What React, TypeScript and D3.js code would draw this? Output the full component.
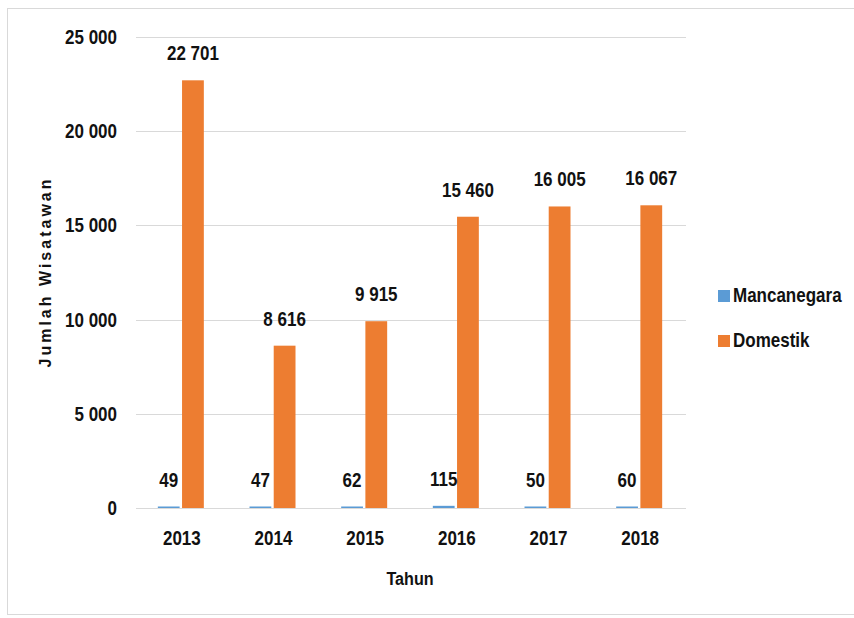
import React, { useEffect, useRef } from 'react';
import * as d3 from 'd3';

const YEARS = ['2013', '2014', '2015', '2016', '2017', '2018'];
const SERIES = ['Mancanegara', 'Domestik'];
const MANCANEGARA = [49, 47, 62, 115, 50, 60];
const DOMESTIK = [22701, 8616, 9915, 15460, 16005, 16067];
const Y_TICKS = [0, 5000, 10000, 15000, 20000, 25000];

const COLORS = ['#5B9BD5', '#ED7D31'];
const FONT = '"Liberation Sans", Arial, sans-serif';
const SQUEEZE = 0.85; // the source font is a condensed one

const fmt = (v: number) => d3.format(',')(v).replace(/,/g, ' ');
const at = (x: number, y: number) => `translate(${x},${y}) scale(${SQUEEZE},1)`;

export default function App() {
  const svgRef = useRef<SVGSVGElement | null>(null);

  useEffect(() => {
    document.body.style.margin = '0';
    const width = 854;
    const height = 618;
    const svg = d3.select(svgRef.current).attr('width', width).attr('height', height);
    svg.selectAll('*').remove();

    svg.append('rect').attr('width', width).attr('height', height).attr('fill', '#fff');
    // chart frame
    svg.append('rect')
      .attr('x', 7.5).attr('y', 8.5)
      .attr('width', 860).attr('height', 606)
      .attr('fill', 'none').attr('stroke', '#d9d9d9');

    const x0 = d3.scaleBand().domain(YEARS).range([136, 686]);
    const bw = x0.bandwidth();
    const x1 = d3.scaleBand().domain(SERIES).range([bw / 2 - 24, bw / 2 + 22]).paddingInner(0.1);
    const y = d3.scaleLinear().domain([0, 25000]).range([508, 37]);

    // gridlines
    svg.append('g')
      .selectAll('line')
      .data(Y_TICKS)
      .join('line')
      .attr('x1', 136).attr('x2', 686)
      .attr('y1', d => Math.round(y(d)) + 0.5).attr('y2', d => Math.round(y(d)) + 0.5)
      .attr('stroke', '#d9d9d9').attr('stroke-width', 1);

    // y tick labels
    svg.append('g')
      .selectAll('text')
      .data(Y_TICKS)
      .join('text')
      .attr('transform', d => at(117, y(d) + 7))
      .attr('text-anchor', 'end')
      .attr('font-family', FONT).attr('font-weight', 'bold').attr('font-size', 20)
      .attr('fill', '#111')
      .text(d => fmt(d));

    const values = [MANCANEGARA, DOMESTIK];
    const rows = YEARS.map((yr, i) => ({ yr, vals: SERIES.map((s, k) => ({ s, k, v: values[k][i] })) }));

    const groups = svg.append('g')
      .selectAll('g')
      .data(rows)
      .join('g')
      .attr('transform', d => `translate(${x0(d.yr)},0)`);

    groups.selectAll('rect')
      .data(d => d.vals)
      .join('rect')
      .attr('x', d => x1(d.s)!)
      .attr('width', x1.bandwidth())
      .attr('y', d => Math.min(y(d.v), 506.5))
      .attr('height', d => Math.max(y(0) - y(d.v), 1.5))
      .attr('fill', d => COLORS[d.k]);

    groups.selectAll('text')
      .data(d => d.vals)
      .join('text')
      .attr('transform', d => at(x1(d.s)! + x1.bandwidth() / 2, y(d.v) - 20))
      .attr('text-anchor', 'middle')
      .attr('font-family', FONT).attr('font-weight', 'bold').attr('font-size', 20)
      .attr('fill', '#111')
      .text(d => fmt(d.v));

    // x tick labels
    svg.append('g')
      .selectAll('text')
      .data(YEARS)
      .join('text')
      .attr('transform', d => at(x0(d)! + bw / 2, 545))
      .attr('text-anchor', 'middle')
      .attr('font-family', FONT).attr('font-weight', 'bold').attr('font-size', 20)
      .attr('fill', '#111')
      .text(d => d);

    // axis titles
    svg.append('text')
      .attr('transform', at(410, 585))
      .attr('text-anchor', 'middle')
      .attr('font-family', FONT).attr('font-weight', 'bold').attr('font-size', 19)
      .attr('fill', '#111')
      .text('Tahun');

    svg.append('text')
      .attr('transform', 'translate(51,272) rotate(-90)')
      .attr('text-anchor', 'middle')
      .attr('font-family', FONT).attr('font-weight', 'bold').attr('font-size', 16)
      .attr('letter-spacing', 3)
      .attr('fill', '#111')
      .text('Jumlah Wisatawan');

    // legend
    const legend = svg.append('g')
      .selectAll('g')
      .data(SERIES)
      .join('g')
      .attr('transform', (d, i) => `translate(718,${290 + i * 45})`);
    legend.append('rect')
      .attr('width', 12).attr('height', 12)
      .attr('fill', (d, i) => COLORS[i]);
    legend.append('text')
      .attr('transform', at(15, 12))
      .attr('font-family', FONT).attr('font-weight', 'bold').attr('font-size', 20)
      .attr('fill', '#111')
      .text(d => d);
  }, []);

  return <svg ref={svgRef} style={{ display: 'block' }} />;
}
